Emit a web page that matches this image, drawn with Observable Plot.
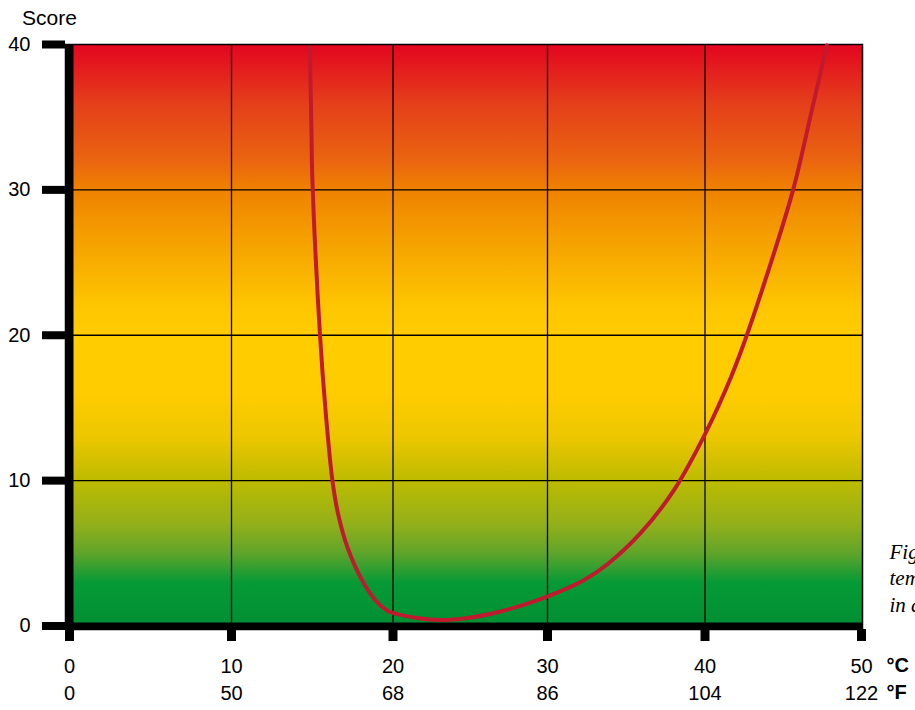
<!DOCTYPE html>
<html><head><meta charset="utf-8">
<script src="https://cdn.jsdelivr.net/npm/d3@7"></script>
<script src="https://cdn.jsdelivr.net/npm/@observablehq/plot@0.6"></script>
<style>body{margin:0;background:#fff}</style>
</head><body><div id="chart"></div>
<script>
// Curve: temperature (°C) vs score
const tempC = [14.85, 14.95, 15.01, 15.48, 15.84, 16.25, 16.6, 17.18, 18.1, 18.93, 19.65, 20.0, 21.57, 23.08, 24.81, 26.97, 29.13, 30.84, 32.3, 33.81, 35.92, 38.03, 40.0, 41.65, 42.67, 43.98, 45.63, 46.81, 47.78];
const score = [39.8, 34.1, 30.66, 20, 14.59, 10, 7.71, 5.41, 3.12, 1.74, 1.05, 0.9, 0.55, 0.41, 0.55, 1.0, 1.69, 2.4, 3.15, 4.25, 6.4, 9.35, 13.2, 17.1, 20, 24.22, 30, 35.4, 39.94];

const celsiusTicks = [0, 10, 20, 30, 40, 50];
const fahrenheitLabels = ["0", "50", "68", "86", "104", "122"];
const scoreTicks = [0, 10, 20, 30, 40];
const gridC = [10, 20, 30, 40];
const gridScore = [10, 20, 30];

// background colour bands (score -> colour)
const bandScores = [40, 36, 32, 30, 26, 22, 20, 16, 13, 10, 7, 5, 3, 0];
const bandColors = ["#e30520", "#e43e1a", "#ea6510", "#ef8200", "#f6a500", "#fec600", "#ffcc00", "#ffcc00", "#ecc700", "#bdbb00", "#93b01a", "#5fa42a", "#069a36", "#008f33"];

const yLabel = "Score";
const unitC = "°C";
const unitF = "°F";
const captionLines = ["Figure 1: Score as a function of", "temperature, showing comfort", "in degrees Celsius and Fahrenheit."];

const data = tempC.map((t, i) => ({t, s: score[i]}));
const sans = "Liberation Sans, Arial, Helvetica, sans-serif";

const plot = Plot.plot({
  width: 915,
  height: 710,
  marginLeft: 65,
  marginRight: 53,
  marginTop: 44,
  marginBottom: 81,
  style: {fontFamily: sans, fontSize: "20px", background: "white", overflow: "visible"},
  x: {type: "linear", domain: celsiusTicks, range: [69, 231, 392.5, 547, 704.5, 861]},
  y: {domain: [0, 40], range: [625.5, 44]},
  marks: [
    Plot.frame({fill: "url(#bg)"}),
    Plot.ruleX(gridC, {stroke: "black", strokeWidth: 1.3}),
    Plot.ruleY(gridScore, {stroke: "black", strokeWidth: 1.3}),
    Plot.frame({stroke: "black", strokeWidth: 1.5}),
    Plot.line(data, {x: "t", y: "s", stroke: "#c01a2e", strokeWidth: 4, curve: "catmull-rom"}),
    Plot.ruleX([0], {stroke: "black", strokeWidth: 8}),
    Plot.ruleY([0], {stroke: "black", strokeWidth: 7}),
    Plot.axisY({ticks: scoreTicks, tickSize: 23, tickPadding: 12, strokeWidth: 8, fontSize: 20, label: null, color: "black"}),
    Plot.axisX({ticks: celsiusTicks, tickSize: 12, tickPadding: 17, strokeWidth: 9, fontSize: 20, label: null, color: "black"}),
    Plot.axisX({ticks: celsiusTicks, tickSize: 0, tickPadding: 56, fontSize: 20, label: null, color: "black",
      tickFormat: (d, i) => fahrenheitLabels[celsiusTicks.indexOf(d)]}),
    Plot.text([yLabel], {text: d => d, frameAnchor: "top-left", dx: -16, dy: -26, textAnchor: "middle", lineAnchor: "middle", fontSize: 21, fill: "black"}),
    Plot.text([unitC], {text: d => d, frameAnchor: "bottom-right", dx: 24, dy: 36, textAnchor: "start", lineAnchor: "middle", fontWeight: "bold", fontSize: 20, fill: "black"}),
    Plot.text([unitF], {text: d => d, frameAnchor: "bottom-right", dx: 24, dy: 63, textAnchor: "start", lineAnchor: "middle", fontWeight: "bold", fontSize: 20, fill: "black"}),
    Plot.text([captionLines.join("\n")], {text: d => d, frameAnchor: "bottom-right", dx: 27, dy: -18, textAnchor: "start", lineAnchor: "bottom", lineHeight: 1.25, fontFamily: "Liberation Serif, DejaVu Serif, serif", fontStyle: "italic", fontSize: 21, fill: "black"})
  ]
});

const yScale = plot.scale("y");
const grad = d3.select(plot).insert("defs", ":first-child")
  .append("linearGradient")
  .attr("id", "bg")
  .attr("gradientUnits", "userSpaceOnUse")
  .attr("x1", 0).attr("x2", 0)
  .attr("y1", yScale.apply(40)).attr("y2", yScale.apply(0));
grad.selectAll("stop").data(bandScores).join("stop")
  .attr("offset", s => (40 - s) / 40)
  .attr("stop-color", (s, i) => bandColors[i]);

document.getElementById("chart").appendChild(plot);
</script>
</body></html>
